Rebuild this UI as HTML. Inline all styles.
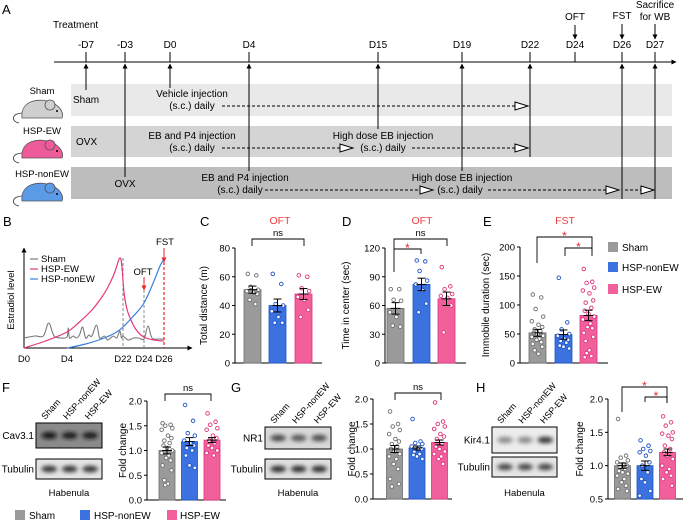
<!DOCTYPE html>
<html><head><meta charset="utf-8"><style>
html,body{margin:0;padding:0;background:#fff;}
svg{display:block;font-family:"Liberation Sans",Arial,sans-serif;}
</style></head><body>
<svg id="fig" width="685" height="521" viewBox="0 0 685 521" xmlns="http://www.w3.org/2000/svg">
<defs>
<marker id="ah" viewBox="0 0 10 10" refX="9" refY="5" markerWidth="5" markerHeight="5" orient="auto"><path d="M0,0 L10,5 L0,10 z" fill="#000"/></marker>
<marker id="ahr" viewBox="0 0 10 10" refX="9" refY="5" markerWidth="5" markerHeight="5" orient="auto"><path d="M0,0 L10,5 L0,10 z" fill="#e8262b"/></marker>
<filter id="blur" x="-20%" y="-50%" width="140%" height="200%"><feGaussianBlur stdDeviation="2.2"/></filter>
</defs>

<!-- Panel A -->
<g font-size="10">
<text x="2" y="14" font-size="13">A</text>
<text x="53" y="28">Treatment</text>
<rect x="71" y="84" width="601" height="32" fill="#e9e9e9"/>
<rect x="71" y="126" width="601" height="31" fill="#d4d4d4"/>
<rect x="71" y="167" width="601" height="32" fill="#bdbdbd"/>
<line x1="54" y1="62" x2="676" y2="62" stroke="#000" stroke-width="1" marker-end="url(#ah)"/>
<g id="timeline"></g>
<text x="575" y="20" text-anchor="middle">OFT</text>
<text x="622" y="19" text-anchor="middle">FST</text>
<text x="655" y="8" text-anchor="middle">Sacrifice</text>
<text x="655" y="20" text-anchor="middle">for WB</text>
<line x1="575" y1="25" x2="575" y2="39" stroke="#000" marker-end="url(#ah)"/>
<line x1="622" y1="24" x2="622" y2="39" stroke="#000" marker-end="url(#ah)"/>
<line x1="655" y1="24" x2="655" y2="39" stroke="#000" marker-end="url(#ah)"/>
<g stroke="#000" stroke-width="1" fill="none">
<line x1="86" y1="90" x2="86" y2="64" marker-end="url(#ah)"/>
<line x1="125" y1="177" x2="125" y2="64" marker-end="url(#ah)"/>
<line x1="170" y1="88" x2="170" y2="64" marker-end="url(#ah)"/>
<line x1="249" y1="171" x2="249" y2="64" marker-end="url(#ah)"/>
<line x1="378" y1="129" x2="378" y2="64" marker-end="url(#ah)"/>
<line x1="462" y1="171" x2="462" y2="64" marker-end="url(#ah)"/>
<line x1="530" y1="157" x2="530" y2="64" marker-end="url(#ah)"/>
<line x1="622" y1="199" x2="622" y2="64" marker-end="url(#ah)"/>
<line x1="655" y1="199" x2="655" y2="64" marker-end="url(#ah)"/>
</g>
<text x="73" y="103">Sham</text>
<text x="192" y="97" text-anchor="middle">Vehicle injection</text>
<text x="192" y="109" text-anchor="middle">(s.c.) daily</text>
<line x1="222" y1="106" x2="515" y2="106" stroke="#000" stroke-dasharray="3,2"/>
<path d="M515,102 L528,106 L515,110 Z" fill="#fff" stroke="#000"/>
<text x="76" y="145">OVX</text>
<text x="192" y="139" text-anchor="middle">EB and P4 injection</text>
<text x="192" y="151" text-anchor="middle">(s.c.) daily</text>
<line x1="222" y1="148" x2="340" y2="148" stroke="#000" stroke-dasharray="3,2"/>
<path d="M340,144 L353,148 L340,152 Z" fill="#fff" stroke="#000"/>
<text x="383" y="139" text-anchor="middle">High dose EB injection</text>
<text x="383" y="151" text-anchor="middle">(s.c.) daily</text>
<line x1="412" y1="148" x2="515" y2="148" stroke="#000" stroke-dasharray="3,2"/>
<path d="M515,144 L528,148 L515,152 Z" fill="#fff" stroke="#000"/>
<text x="125" y="187" text-anchor="middle">OVX</text>
<text x="245" y="181" text-anchor="middle">EB and P4 injection</text>
<text x="240" y="193" text-anchor="middle">(s.c.) daily</text>
<line x1="265" y1="190" x2="420" y2="190" stroke="#000" stroke-dasharray="3,2"/>
<path d="M420,186 L433,190 L420,194 Z" fill="#fff" stroke="#000"/>
<text x="462" y="181" text-anchor="middle">High dose EB injection</text>
<text x="460" y="193" text-anchor="middle">(s.c.) daily</text>
<line x1="488" y1="190" x2="606" y2="190" stroke="#000" stroke-dasharray="3,2"/>
<path d="M606,186 L619,190 L606,194 Z" fill="#fff" stroke="#000"/>
<line x1="625" y1="190" x2="643" y2="190" stroke="#000" stroke-dasharray="3,2"/>
<path d="M641,186 L654,190 L641,194 Z" fill="#fff" stroke="#000"/>
<g id="mice"></g>
</g>

<g>
<text x="3" y="226" font-size="13">B</text>
<g id="panelB"></g>
</g>
<text x="200" y="226" font-size="13">C</text>
<text x="342" y="226" font-size="13">D</text>
<text x="483" y="226" font-size="13">E</text>
<text x="2" y="392" font-size="13">F</text>
<text x="231" y="392" font-size="13">G</text>
<text x="476" y="392" font-size="13">H</text>
<g id="charts"></g>
<g id="blots"></g>
<g font-size="10">
<rect x="608" y="242" width="10" height="10" fill="#9a9a9a"/>
<text x="622" y="251">Sham</text>
<rect x="608" y="262" width="10" height="10" fill="#3b72e0"/>
<text x="622" y="271">HSP-nonEW</text>
<rect x="608" y="284" width="10" height="10" fill="#f2609c"/>
<text x="622" y="293">HSP-EW</text>
</g>
<g font-size="10">
<rect x="15" y="510" width="10" height="10" fill="#9a9a9a"/>
<text x="29" y="519">Sham</text>
<rect x="80" y="510" width="10" height="10" fill="#3b72e0"/>
<text x="94" y="519">HSP-nonEW</text>
<rect x="167" y="510" width="10" height="10" fill="#f2609c"/>
<text x="180" y="519">HSP-EW</text>
</g>
</svg>
<script>
const timelineLabels = ['-D7','-D3','D0','D4','D15','D19','D22','D24','D26','D27'];
const timelineDays = [-7,-3,0,4,15,19,22,24,26,27];

const bPink = [[0,0],[2,0.07],[4,0.16],[8,0.26],[12,0.38],[15,0.5],[17,0.6],[19,0.73],[20,0.82],[20.6,0.88],[21,0.9],[21.4,0.88],[21.8,0.76],[22.1,0.55],[22.4,0.38],[22.8,0.27],[23.2,0.19],[23.7,0.13],[24.2,0.1],[25,0.08],[26,0.07]];
const bBlue = [[4,0],[10,0.04],[16,0.1],[20,0.16],[22,0.21],[23,0.32],[24,0.45],[25,0.67],[25.6,0.82],[26,0.89]];
const bGray = [[0,0.1],[1,0.12],[1.8,0.12],[2.3,0.25],[2.8,0.12],[3.5,0.1],[4,0.11],[4.4,0.2],[4.8,0.1],[6,0.12],[7,0.1],[8,0.13],[9,0.21],[10,0.1],[11,0.13],[12,0.12],[13.5,0.23],[14.5,0.1],[16,0.12],[17,0.08],[18,0.1],[19,0.12],[20,0.1],[21,0.17],[21.5,0.1],[22,0.12],[22.5,0.08],[23,0.1],[23.5,0.1],[24,0.09],[24.4,0.22],[24.8,0.1],[25.5,0.09],[26,0.09]];
const bTickDays = [0,4,22,24,26];
const bTickLabels = ['D0','D4','D22','D24','D26'];

const cMeans=[51,40,48], cSem=[2.5,4.5,3.8];
const cSham=[62,61,53,51,50,49,48,44,41], cNon=[62,55,41,40,36,32,28,28], cEw=[61,60,52,50,46,44,37,32];
const cTicks=[0,20,40,60,80];
const dMeans=[57,82,67], dSem=[6,6.5,7];
const dSham=[77,77,66,65,53,48,38,39], dNon=[107,106,96,86,82,76,62,53], dEw=[100,80,77,72,70,68,60,32];
const dTicks=[0,30,60,90,120];
const eMeans=[52,49,82], eSem=[6,8,9];
const eSham=[118,113,93,80,72,66,62,58,55,52,50,47,45,42,40,36,33,28,22,16], eNon=[147,70,58,50,47,42,40,38,35,30,28,25], eEw=[162,140,138,130,125,120,108,104,95,90,85,80,75,68,62,60,52,45,38,22,17,12,10];
const eTicks=[0,50,100,150,200];
const fMeans=[1.0,1.18,1.21], fSem=[0.07,0.08,0.05];
const fSham=[1.55,1.52,1.5,1.45,1.42,1.3,1.25,1.2,1.15,1.1,1.05,1.0,0.95,0.9,0.85,0.8,0.7,0.6,0.4,0.33,0.3], fNon=[1.92,1.6,1.35,1.3,1.2,1.15,1.1,1.05,1.0,0.9,0.7,0.65], fEw=[1.75,1.58,1.52,1.45,1.42,1.3,1.25,1.2,1.15,1.1,1.05,1.0,0.95,0.9];
const fTicks=[0.0,0.5,1.0,1.5,2.0];
const gMeans=[1.0,1.02,1.13], gSem=[0.07,0.04,0.05];
const gSham=[1.75,1.5,1.45,1.38,1.3,1.2,1.15,1.1,1.05,1.0,0.95,0.9,0.85,0.8,0.7,0.6,0.4,0.3,0.25], gNon=[1.6,1.15,1.12,1.1,1.05,1.0,1.0,0.95,0.9,0.88,0.85,0.8], gEw=[1.93,1.55,1.5,1.45,1.4,1.3,1.25,1.2,1.1,1.05,1.0,0.95,0.9,0.85,0.8,0.7];
const gTicks=[0.0,0.5,1.0,1.5,2.0];
const hMeans=[1.0,1.0,1.2], hSem=[0.04,0.07,0.05];
const hSham=[1.7,1.15,1.12,1.08,1.05,1.02,1.0,0.98,0.95,0.92,0.9,0.88,0.85,0.8,0.75,0.7,0.65,0.62], hNon=[1.38,1.3,1.25,1.22,1.2,1.15,1.05,1.0,0.9,0.8,0.75,0.62,0.55], hEw=[1.74,1.65,1.6,1.5,1.48,1.45,1.4,1.3,1.25,1.2,1.15,1.1,1.0,0.95,0.9,0.85,0.8,0.7];
const hTicks=[0.5,1.0,1.5,2.0];

const NS='http://www.w3.org/2000/svg';
function el(tag, attrs, parent){const e=document.createElementNS(NS,tag);for(const k in attrs)e.setAttribute(k,attrs[k]);if(parent)parent.appendChild(e);return e;}
const COLORS=['#9a9a9a','#3b72e0','#f2609c'];
const STROKES=['#6e6e6e','#1f55c8','#e0337d'];

const tl=document.getElementById('timeline');
const tlX={'-7':86,'-3':125,'0':170,'4':249,'15':378,'19':462,'22':530,'24':575,'26':622,'27':655};
timelineDays.forEach((d,i)=>{
  const x=tlX[String(d)];
  const t=el('line',{x1:x,y1:62,x2:x,y2:52,stroke:'#000'},tl);
  
  
  const tx=el('text',{x:x,y:48,'text-anchor':'middle','font-size':10},tl);
  tx.textContent=timelineLabels[i];
  
  
});

const mice=document.getElementById('mice');
[['Sham',94,'#cfcfcf'],['HSP-EW',134,'#ef5a9a'],['HSP-nonEW',177,'#5a9ae6']].forEach(([name,y,c])=>{
  const g=el('g',{},mice);
  
  
  const lb=el('text',{x:42,y:y,'text-anchor':'middle','font-size':9.5},g); lb.textContent=name;
  const cy=y+14;
  el('path',{d:`M23,${cy+5} C12,${cy+5} 10,${cy+13} 19,${cy+15}`,fill:'none',stroke:'#333','stroke-width':0.8},g);
  el('path',{d:`M22,${cy+10} C20,${cy-8} 40,${cy-11} 53,${cy-5} C61,${cy-1} 64,${cy+6} 62,${cy+10} Z`,fill:c,stroke:'#555','stroke-width':0.8},g);
  el('circle',{cx:50,cy:cy-3,r:5,fill:c,stroke:'#555','stroke-width':0.8},g);
  el('circle',{cx:57,cy:cy+3,r:1,fill:'#000'},g);
});

(function(){
  const g=document.getElementById('panelB');
  const dx=[24,67,123,144,164];
  function X(d){for(let i=0;i<bTickDays.length-1;i++){if(d<=bTickDays[i+1]){const a=bTickDays[i],b=bTickDays[i+1];return dx[i]+(d-a)/(b-a)*(dx[i+1]-dx[i]);}}return dx[dx.length-1]+(d-26)*10;}
  function Y(v){return 348-v*100;}
  function path(arr){const p=arr.map(a=>[X(a[0]),Y(a[1])]);let s=`M${p[0][0]},${p[0][1]}`;for(let i=0;i<p.length-1;i++){const p0=p[i-1]||p[i],p1=p[i],p2=p[i+1],p3=p[i+2]||p2;s+=` C${p1[0]+(p2[0]-p0[0])/6},${p1[1]+(p2[1]-p0[1])/6} ${p2[0]-(p3[0]-p1[0])/6},${p2[1]-(p3[1]-p1[1])/6} ${p2[0]},${p2[1]}`;}return s;}
  el('line',{x1:24,y1:348,x2:24,y2:248,stroke:'#000','marker-end':'url(#ah)'},g);
  el('line',{x1:24,y1:348,x2:192,y2:348,stroke:'#000','marker-end':'url(#ah)'},g);
  bTickDays.forEach((d,i)=>{const t=el('text',{x:X(d),y:362,'text-anchor':'middle','font-size':9.5},g);t.textContent=bTickLabels[i];
    
    });
  el('line',{x1:X(22),y1:258,x2:X(22),y2:348,stroke:'#888','stroke-dasharray':'3,2'},g);
  el('line',{x1:X(24),y1:290,x2:X(24),y2:348,stroke:'#888','stroke-dasharray':'3,2'},g);
  el('line',{x1:X(26),y1:262,x2:X(26),y2:348,stroke:'#e8262b','stroke-dasharray':'3,2','stroke-width':1.2},g);
  const gp=el('path',{d:path(bGray),fill:'none',stroke:'#7a7a7a','stroke-width':1.1},g);
  
  
  const pp=el('path',{d:path(bPink),fill:'none',stroke:'#e8357f','stroke-width':1.2},g);
  
  
  const bp=el('path',{d:path(bBlue),fill:'none',stroke:'#3b80d8','stroke-width':1.2},g);
  
  
  const yl=el('text',{x:14,y:300,'text-anchor':'middle','font-size':9.5,transform:'rotate(-90 14 300)'},g);yl.textContent='Estradiol  level';
  
  
  [['Sham','#7a7a7a',259],['HSP-EW','#e8357f',269],['HSP-nonEW','#3b80d8',279]].forEach(([n,c,y])=>{
    el('line',{x1:30,y1:y,x2:38,y2:y,stroke:c,'stroke-width':1.2},g);
    const t=el('text',{x:41,y:y+3,'font-size':9.5},g);t.textContent=n;
    
    
  });
  const f=el('text',{x:165,y:245,'text-anchor':'middle','font-size':9.5},g);f.textContent='FST';
  el('line',{x1:X(26),y1:248,x2:X(26),y2:262,stroke:'#e8262b','marker-end':'url(#ahr)'},g);
  const o=el('text',{x:143,y:275,'text-anchor':'middle','font-size':9.5},g);o.textContent='OFT';
  el('line',{x1:X(24),y1:277,x2:X(24),y2:290,stroke:'#e8262b','marker-end':'url(#ahr)'},g);
})();

const charts=document.getElementById('charts');
const jit=[-5,4,-2,6,-6,1,5,-3,3,-4,0,6,-6,2,-1,4,-5,5,-3,1,-2,3,-4];
function barChart(o){
  const g=el('g',{},charts);
  
  
  const Y=v=>o.y0-(v-o.vmin)/(o.vmax-o.vmin)*(o.y0-o.ytop);
  el('line',{x1:o.ax,y1:o.ytop,x2:o.ax,y2:o.y0,stroke:'#000'},g);
  el('line',{x1:o.ax,y1:o.y0,x2:o.xend,y2:o.y0,stroke:'#000'},g);
  o.ticks.forEach(t=>{el('line',{x1:o.ax-3,y1:Y(t),x2:o.ax,y2:Y(t),stroke:'#000'},g);
    const tx=el('text',{x:o.ax-5,y:Y(t)+3.5,'text-anchor':'end','font-size':9.5},g);tx.textContent=o.fmt?t.toFixed(1):t;
    
    });
  const yl=el('text',{x:o.ylx,y:(o.y0+o.ytop)/2,'text-anchor':'middle','font-size':10,transform:`rotate(-90 ${o.ylx} ${(o.y0+o.ytop)/2})`},g);yl.textContent=o.ylabel;
  
  
  o.means.forEach((m,i)=>{
    const cx=o.cx[i];
    const r=el('rect',{x:cx-o.bw/2,y:Y(m),width:o.bw,height:o.y0-Y(m),fill:COLORS[i],stroke:STROKES[i],'stroke-width':0.8},g);
    
    
    o.pts[i].forEach((v,j)=>{const c=el('circle',{cx:cx+jit[j%jit.length]*o.bw/18,cy:Y(v),r:1.8,fill:'#fff',stroke:STROKES[i],'stroke-width':0.9},g);
      
      });
    const s=o.sem[i];
    el('line',{x1:cx,y1:Y(m-s),x2:cx,y2:Y(m+s),stroke:'#000'},g);
    el('line',{x1:cx-4,y1:Y(m+s),x2:cx+4,y2:Y(m+s),stroke:'#000'},g);
    el('line',{x1:cx-4,y1:Y(m-s),x2:cx+4,y2:Y(m-s),stroke:'#000'},g);
    el('line',{x1:cx-5,y1:Y(m),x2:cx+5,y2:Y(m),stroke:'#000'},g);
  });
  (o.brackets||[]).forEach(b=>{
    el('path',{d:`M${b[0]},${b[3]} L${b[0]},${b[2]} L${b[1]},${b[2]} L${b[1]},${b[4]}`,fill:'none',stroke:'#000','stroke-width':0.9},g);
    const t=el('text',{x:(b[0]+b[1])/2,y:b[2]-(b[5]==='*'?-3:3),'text-anchor':'middle','font-size':b[5]==='*'?12:9.5,fill:b[5]==='*'?'#e8262b':'#000'},g);t.textContent=b[5];
    
    
  });
  if(o.title){const t=el('text',{x:o.title[1],y:o.title[2],'text-anchor':'middle','font-size':10.5,fill:'#f04040'},g);t.textContent=o.title[0];
    
    }
}
barChart({name:'chart-c',ax:235,xend:322,y0:363,ytop:248,vmin:0,vmax:80,ticks:cTicks,cx:[252.5,277.5,303.5],bw:17,means:cMeans,sem:cSem,pts:[cSham,cNon,cEw],ylabel:'Total distance (m)',ylx:207,title:['OFT',280,224],brackets:[[252,304,239,246,246,'ns']]});
barChart({name:'chart-d',ax:385,xend:466,y0:363,ytop:248,vmin:0,vmax:120,ticks:dTicks,cx:[395.5,421.5,446.5],bw:17,means:dMeans,sem:dSem,pts:[dSham,dNon,dEw],ylabel:'Time in center (sec)',ylx:349,title:['OFT',422,224],brackets:[[394,447,239,272,246,'ns'],[394,421,249,249,254,'*']]});
barChart({name:'chart-e',ax:520,xend:608,y0:363,ytop:247,vmin:0,vmax:200,ticks:eTicks,cx:[537.5,563.5,588.5],bw:17,means:eMeans,sem:eSem,pts:[eSham,eNon,eEw],ylabel:'Immobile duration (sec)',ylx:489,title:['FST',565,224],brackets:[[537,592,237,263,250,'*'],[565,592,248,256,256,'*']]});
barChart({name:'chart-f',ax:147,xend:226,y0:500,ytop:401,vmin:0,vmax:2,ticks:fTicks,fmt:1,cx:[167,189.5,212],bw:16,means:fMeans,sem:fSem,pts:[fSham,fNon,fEw],ylabel:'Fold change',ylx:126,brackets:[[165,211,394,401,401,'ns']]});
barChart({name:'chart-g',ax:373,xend:452,y0:499,ytop:399,vmin:0,vmax:2,ticks:gTicks,fmt:1,cx:[394.5,417,439.5],bw:16,means:gMeans,sem:gSem,pts:[gSham,gNon,gEw],ylabel:'Fold change',ylx:355,brackets:[[395,441,393,400,400,'ns']]});
barChart({name:'chart-h',ax:608,xend:683,y0:499,ytop:399,vmin:0.5,vmax:2,ticks:hTicks,fmt:1,cx:[622.5,645,667.5],bw:16,means:hMeans,sem:hSem,pts:[hSham,hNon,hEw],ylabel:'Fold change',ylx:583,brackets:[[622,667,387,412,403,'*'],[645,667,397,402,403,'*']]});

const blots=document.getElementById('blots');
function blot(o){
  const g=el('g',{},blots);
  
  
  ['Sham','HSP-nonEW','HSP-EW'].forEach((n,i)=>{const x=o.x+o.w*(i*0.33+0.14);const t=el('text',{x:x,y:o.y1-3,'font-size':9,transform:`rotate(-48 ${x} ${o.y1-3})`},g);t.textContent=n;
    
    });
  [[o.y1,o.h1,o.bg1,o.band1,o.lab1],[o.y2,o.h2,o.bg2,o.band2,'Tubulin']].forEach(([y,h,bg,bands,lab])=>{
    el('rect',{x:o.x,y:y,width:o.w,height:h,fill:bg,stroke:'#000','stroke-width':1},g);
    bands.forEach((c,i)=>{el('ellipse',{cx:o.x+o.w*(0.2+i*0.31),cy:y+h/2,rx:o.w*0.12,ry:3.2,fill:c,filter:'url(#blur)'},g);});
    const t=el('text',{x:o.x-2,y:y+h/2+3.5,'text-anchor':'end','font-size':10},g);t.textContent=lab;
    
    
  });
  const hb=el('text',{x:o.x+o.w/2,y:496,'text-anchor':'middle','font-size':9.5},g);hb.textContent='Habenula';
}
blot({name:'blot-f',x:36,w:66,y1:423,h1:25,y2:459,h2:20,bg1:'#8a8a8a',bg2:'#e4e4e4',band1:['#111','#151515','#151515'],band2:['#333','#333','#333'],lab1:'Cav3.1'});
blot({name:'blot-g',x:265,w:66,y1:427,h1:22,y2:459,h2:20,bg1:'#d8d8d8',bg2:'#e0e0e0',band1:['#444','#555','#4a4a4a'],band2:['#2a2a2a','#2a2a2a','#2a2a2a'],lab1:'NR1'});
blot({name:'blot-h',x:492,w:65,y1:427,h1:26,y2:457,h2:20,bg1:'#ececec',bg2:'#e6e6e6',band1:['#8a8a8a','#8a8a8a','#333'],band2:['#444','#444','#444'],lab1:'Kir4.1'});
</script>
</body></html>
